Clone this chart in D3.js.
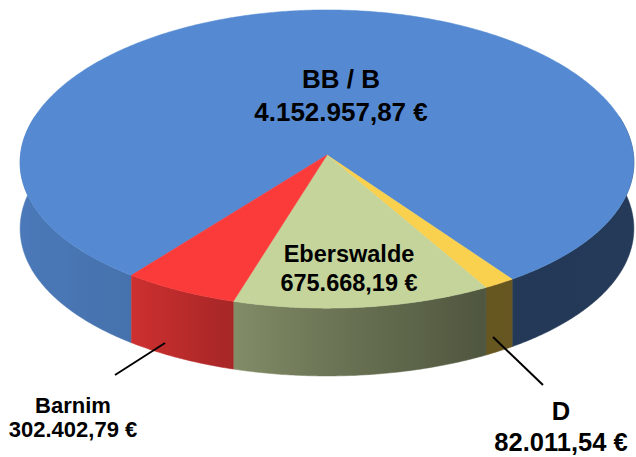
<!DOCTYPE html>
<html>
<head>
<meta charset="utf-8">
<script src="https://cdn.jsdelivr.net/npm/d3@7"></script>
<style>
  body { margin: 0; background: #fff; }
  .lbl { font-family: "Liberation Sans", Arial, sans-serif; font-weight: bold; fill: #000; text-anchor: middle; }
</style>
</head>
<body>
<div id="chart"></div>
<script>
// slice data, clockwise from the first slice
const categories = ['BB / B', 'D', 'Eberswalde', 'Barnim'];
const values = [4152957.87, 82011.54, 675668.19, 302402.79];
const topColors = ['#558ad2', '#f9d14f', '#c4d49b', '#fb3a3a'];

const width = 636, height = 457;
const cx = 327, cy = 155, rx = 306.5, ry = 149, depth = 66;
const kx = 0.05, ky = 0.027;   // slight perspective, front looks bigger
const startDeg = 217.8;

const locale = d3.formatLocale({decimal: ',', thousands: '.', grouping: [3], currency: ['', ' €']});
const fmt = locale.format('$,.2f');

const svg = d3.select('#chart').append('svg')
    .attr('width', width)
    .attr('height', height);

const pie = d3.pie()
    .sort(null)
    .value(d => d)
    .startAngle(startDeg * Math.PI / 180)
    .endAngle(startDeg * Math.PI / 180 + 2 * Math.PI);

const arcs = pie(values);

// point on the rim, dz pushes it down to the bottom edge
const proj = (a, dz) => {
    const X = Math.sin(a), Z = -Math.cos(a);
    const sx = 1 / (1 - kx * Z), sy = 1 / (1 - ky * Z);
    return [cx + rx * X * sx, cy + (ry * Z + dz) * sy];
};
const line = d3.line();

function rimPoints(a0, a1, dz) {
    const n = Math.max(2, Math.ceil((a1 - a0) / (Math.PI / 360)));
    return d3.range(n + 1).map(i => proj(a0 + (a1 - a0) * i / n, dz));
}

// side shading: darker towards the right
const shade = d3.scaleLinear()
    .domain([20, 130, 235, 330, 480, 634])
    .range([0.88, 0.82, 0.66, 0.55, 0.41, 0.42])
    .clamp(true);

const defs = svg.append('defs');
topColors.forEach((c, i) => {
    const base = d3.rgb(c);
    const g = defs.append('linearGradient')
        .attr('id', 'side' + i)
        .attr('gradientUnits', 'userSpaceOnUse')
        .attr('x1', 20).attr('x2', 634).attr('y1', 0).attr('y2', 0);
    d3.range(20, 635, 15).forEach(x => {
        const k = shade(x);
        g.append('stop')
            .attr('offset', (x - 20) / 614)
            .attr('stop-color', d3.rgb(base.r * k, base.g * k, base.b * k).formatHex());
    });
});

// outer walls of the front half (a bit wider, the top faces cover the rest)
const lo = 75 * Math.PI / 180, hi = 285 * Math.PI / 180;
const walls = [];
arcs.forEach((d, i) => {
    [[lo, hi], [lo + 2 * Math.PI, hi + 2 * Math.PI]].forEach(([l, h]) => {
        const a0 = Math.max(d.startAngle, l), a1 = Math.min(d.endAngle, h);
        if (a1 > a0) walls.push({i, a0, a1});
    });
});

svg.append('g').selectAll('path')
    .data(walls)
    .join('path')
    .attr('d', w => line(rimPoints(w.a0, w.a1, 0).concat(rimPoints(w.a0, w.a1, depth).reverse())) + 'Z')
    .attr('fill', w => `url(#side${w.i})`)
    .attr('stroke', w => `url(#side${w.i})`)
    .attr('stroke-width', 0.5);

// top faces
svg.append('g').selectAll('path')
    .data(arcs)
    .join('path')
    .attr('d', d => line([proj(0, -ry)].map(() => [cx, cy]).concat(rimPoints(d.startAngle, d.endAngle, 0))) + 'Z')
    .attr('fill', (d, i) => topColors[i])
    .attr('stroke', (d, i) => topColors[i])
    .attr('stroke-width', 0.5);

// leader lines
const leaders = [
    [[115, 375], [165, 343]],
    [[543, 385], [493, 337]]
];
svg.append('g').selectAll('path')
    .data(leaders)
    .join('path')
    .attr('d', d => line(d))
    .attr('stroke', '#000')
    .attr('stroke-width', 2)
    .attr('fill', 'none');

// labels: [x, name baseline, value baseline, font size]
const labelPos = [
    [341, 88, 121, 26],
    [561, 420, 451, 25.5],
    [349, 262, 291, 23.5],
    [73, 413, 437, 22]
];
const lbl = svg.append('g').selectAll('g')
    .data(arcs)
    .join('g');
lbl.append('text')
    .attr('class', 'lbl')
    .attr('x', (d, i) => labelPos[i][0])
    .attr('y', (d, i) => labelPos[i][1])
    .style('font-size', (d, i) => labelPos[i][3] + 'px')
    .text((d, i) => categories[i]);
lbl.append('text')
    .attr('class', 'lbl')
    .attr('x', (d, i) => labelPos[i][0])
    .attr('y', (d, i) => labelPos[i][2])
    .style('font-size', (d, i) => labelPos[i][3] + 'px')
    .text(d => fmt(d.data));
</script>
</body>
</html>
